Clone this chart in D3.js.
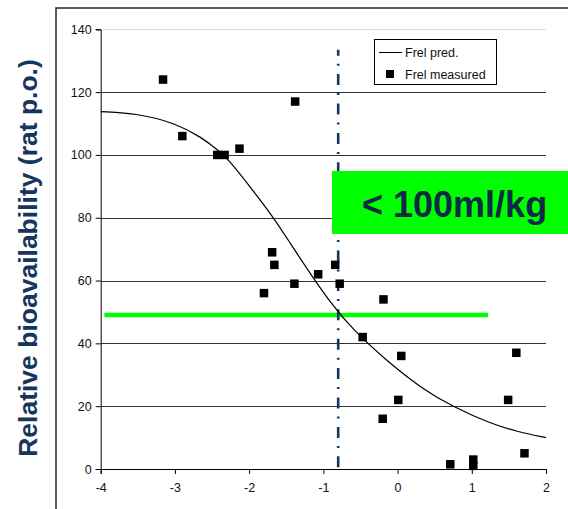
<!DOCTYPE html>
<html><head><meta charset="utf-8">
<script src="https://cdn.jsdelivr.net/npm/d3@7"></script>
<style>body{margin:0;background:#fff;} svg{display:block;}</style>
</head><body>
<svg id="c" width="568" height="509"></svg>
<script>
// ---- data ----
const xTicks = [-4, -3, -2, -1, 0, 1, 2];
const yTicks = [0, 20, 40, 60, 80, 100, 120, 140];
const measuredX = [-3.16, -2.9, -2.43, -2.33, -2.13, -1.38, -1.69, -1.66, -1.8, -1.39, -1.07, -0.84, -0.78, -0.19, -0.47, 0.05, 0.01, -0.2, 1.6, 1.49, 1.71, 0.71, 1.02, 1.02];
const measuredY = [124, 106, 100, 100, 102, 117, 69, 65, 56, 59, 62, 65, 59, 54, 42, 36, 22, 16, 37, 22, 5, 1.5, 3, 1];
const predX = [-4, -3.5, -3.0, -2.64, -2.415, -2.28, -1.988, -1.696, -1.449, -1.18, -0.865, -0.596, -0.19, 0.348, 0.752, 1.247, 1.607, 2.0];
const predY = [113.8, 113.2, 110.2, 105.6, 101.4, 98.6, 89.9, 80.9, 72.0, 62.3, 51.7, 44.3, 35.3, 25.2, 19.8, 14.5, 11.9, 10.0];
const cutoffX = -0.8;
const cutoffTop = 133.5;
const thresholdY = 49;
const thresholdX = [-3.95, 1.22];
const yTitle = "Relative bioavailability (rat p.o.)";
const boxLabel = "< 100ml/kg";
const legendLabels = ["Frel pred.", "Frel measured"];

// ---- drawing ----
const svg = d3.select("#c");
const navy = "#17365d";
const x = d3.scaleLinear().domain([-4, 2]).range([100.7, 546]);
const y = d3.scaleLinear().domain([0, 140]).range([469, 29.3]);

// outer frame
svg.append("rect").attr("x", 56).attr("y", 8).attr("width", 600).attr("height", 600)
  .attr("fill", "none").attr("stroke", "#333").attr("stroke-width", 1.6);

// gridlines
svg.append("g").selectAll("line").data(yTicks.filter(d => d > 0)).join("line")
  .attr("x1", x(-4)).attr("x2", x(2))
  .attr("y1", d => Math.round(y(d)) + 0.5).attr("y2", d => Math.round(y(d)) + 0.5)
  .attr("stroke", d => d === 140 ? "#dcdcdc" : "#333").attr("stroke-width", 1);

// axes
const font = "'Liberation Sans', Arial, sans-serif";
const yAxis = d3.axisLeft(y).tickValues(yTicks).tickSize(5).tickPadding(4).tickFormat(d3.format("d"));
const gy = svg.append("g").attr("transform", `translate(${x(-4)},0)`).call(yAxis);
const xAxis = d3.axisBottom(x).tickValues(xTicks).tickSize(5).tickPadding(9).tickFormat(d3.format("d"));
const gx = svg.append("g").attr("transform", `translate(0,${y(0)})`).call(xAxis);
[gx, gy].forEach(g => {
  g.select(".domain").attr("stroke", "#000");
  g.selectAll(".tick line").attr("stroke", "#000");
  g.selectAll("text").attr("font-family", font).attr("font-size", 12.5).attr("fill", "#111");
});
gx.selectAll("text").text(d => d < 0 ? "-" + Math.abs(d) : d);

// threshold green line
svg.append("line").attr("x1", x(thresholdX[0])).attr("x2", x(thresholdX[1]))
  .attr("y1", y(thresholdY)).attr("y2", y(thresholdY))
  .attr("stroke", "#00ff00").attr("stroke-width", 4.5);

// cutoff dash-dot line
svg.append("line").attr("x1", x(cutoffX)).attr("x2", x(cutoffX))
  .attr("y1", y(cutoffTop)).attr("y2", y(0))
  .attr("stroke", navy).attr("stroke-width", 2.6)
  .attr("stroke-dasharray", "11,8,2,8.4").attr("stroke-dashoffset", 5);

// predicted curve
const line = d3.line().x(d => x(d[0])).y(d => y(d[1])).curve(d3.curveBasis);
svg.append("path").datum(predX.map((v, i) => [v, predY[i]]))
  .attr("d", line).attr("fill", "none").attr("stroke", "#000").attr("stroke-width", 1.2);

// measured squares
const s = 8.5;
svg.append("g").selectAll("rect").data(measuredX.map((v, i) => [v, measuredY[i]])).join("rect")
  .attr("x", d => x(d[0]) - s / 2).attr("y", d => y(d[1]) - s / 2)
  .attr("width", s).attr("height", s).attr("fill", "#000");

// green label box
svg.append("rect").attr("x", 332).attr("y", 171).attr("width", 240).attr("height", 63).attr("fill", "#00ff00");
svg.append("text").attr("x", 362).attr("y", 217).text(boxLabel)
  .attr("font-family", font).attr("font-weight", "bold").attr("font-size", 36).attr("fill", "#0f2a44");

// legend
const lg = svg.append("g");
lg.append("rect").attr("x", 374.5).attr("y", 39.5).attr("width", 122).attr("height", 45)
  .attr("fill", "#fff").attr("stroke", "#000").attr("stroke-width", 1);
lg.append("line").attr("x1", 379).attr("x2", 402).attr("y1", 52.5).attr("y2", 52.5).attr("stroke", "#000");
lg.append("rect").attr("x", 386).attr("y", 70).attr("width", 8).attr("height", 8).attr("fill", "#000");
lg.selectAll("text").data(legendLabels).join("text")
  .attr("x", 405).attr("y", (d, i) => 57 + i * 21.5).text(d => d)
  .attr("font-family", font).attr("font-size", 12.5).attr("fill", "#111");

// y title
svg.append("text").attr("transform", "translate(37,258) rotate(-90)")
  .attr("text-anchor", "middle").text(yTitle)
  .attr("font-family", font).attr("font-weight", "bold").attr("font-size", 26.5).attr("fill", navy);
</script>
</body></html>
